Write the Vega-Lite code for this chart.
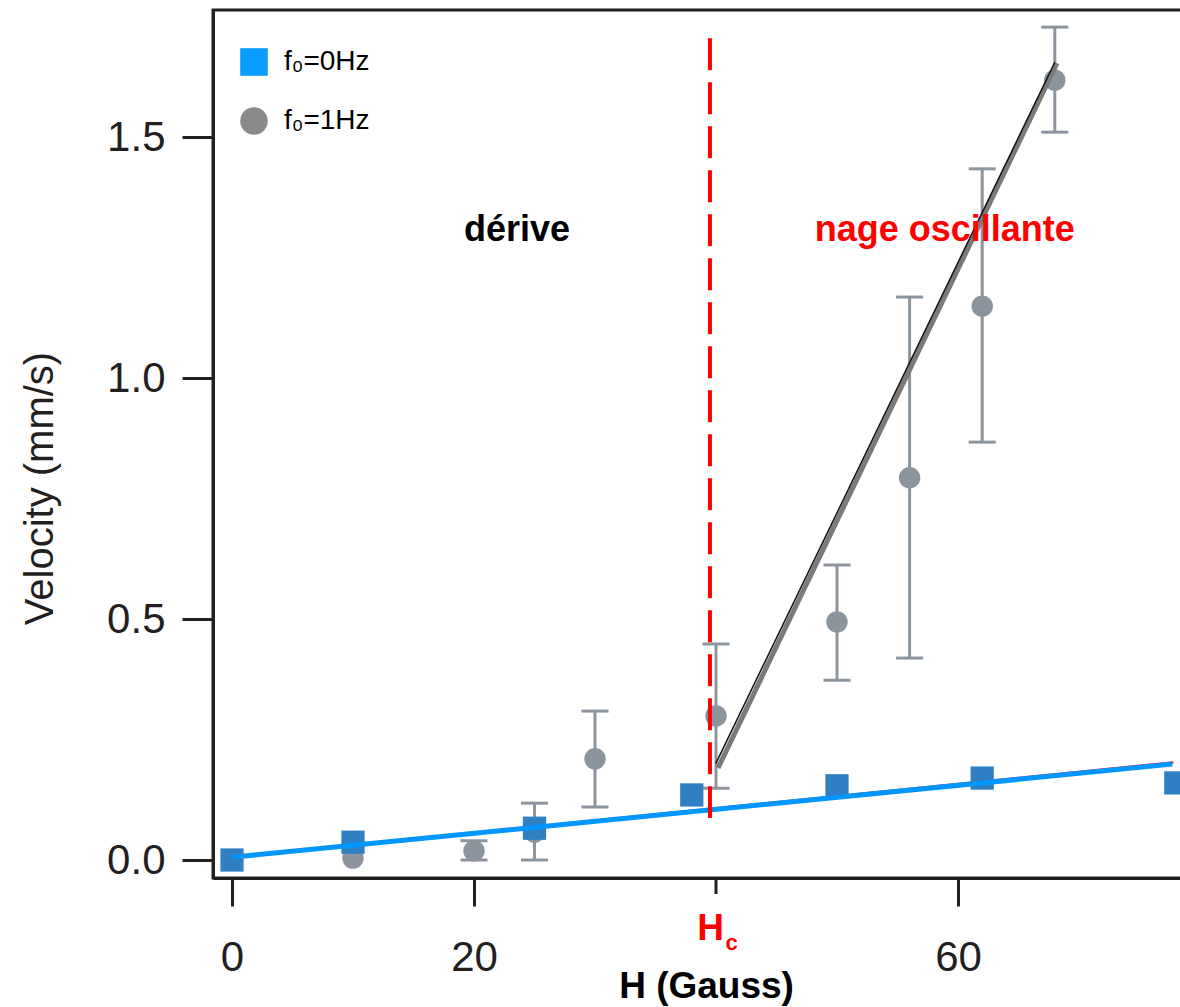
{
  "$schema": "https://vega.github.io/schema/vega-lite/v6.json",
  "width": 970,
  "height": 868,
  "autosize": {"type": "none"},
  "padding": {"left": 213, "top": 10, "right": 0, "bottom": 129},
  "background": "white",
  "config": {
    "view": {"stroke": "#231f20", "strokeWidth": 3},
    "font": "Liberation Sans"
  },
  "datasets": {
    "points": [
      {"series": "f₀=0Hz", "H": 0, "v": 0.0},
      {"series": "f₀=0Hz", "H": 10, "v": 0.037},
      {"series": "f₀=0Hz", "H": 25, "v": 0.066},
      {"series": "f₀=0Hz", "H": 38, "v": 0.135},
      {"series": "f₀=0Hz", "H": 50, "v": 0.154},
      {"series": "f₀=0Hz", "H": 62, "v": 0.17},
      {"series": "f₀=0Hz", "H": 78, "v": 0.16},
      {"series": "f₀=1Hz", "H": 10, "v": 0.004},
      {"series": "f₀=1Hz", "H": 20, "v": 0.019},
      {"series": "f₀=1Hz", "H": 25, "v": 0.058},
      {"series": "f₀=1Hz", "H": 30, "v": 0.21},
      {"series": "f₀=1Hz", "H": 40, "v": 0.299},
      {"series": "f₀=1Hz", "H": 50, "v": 0.494},
      {"series": "f₀=1Hz", "H": 56, "v": 0.793},
      {"series": "f₀=1Hz", "H": 62, "v": 1.149},
      {"series": "f₀=1Hz", "H": 68, "v": 1.618}
    ],
    "squares": [
      {"H": 0, "v": 0.0},
      {"H": 10, "v": 0.037},
      {"H": 25, "v": 0.066},
      {"H": 38, "v": 0.135},
      {"H": 50, "v": 0.154},
      {"H": 62, "v": 0.17},
      {"H": 78, "v": 0.16}
    ],
    "circles": [
      {"H": 10, "v": 0.004},
      {"H": 20, "v": 0.019, "lo": 0.0, "hi": 0.04},
      {"H": 25, "v": 0.058, "lo": 0.0, "hi": 0.118},
      {"H": 30, "v": 0.21, "lo": 0.11, "hi": 0.309},
      {"H": 40, "v": 0.299, "lo": 0.149, "hi": 0.448},
      {"H": 50, "v": 0.494, "lo": 0.373, "hi": 0.612},
      {"H": 56, "v": 0.793, "lo": 0.419, "hi": 1.168},
      {"H": 62, "v": 1.149, "lo": 0.867, "hi": 1.434},
      {"H": 68, "v": 1.618, "lo": 1.51, "hi": 1.728}
    ],
    "redFit": [{"H": 0.2, "v": 0.007}, {"H": 77.8, "v": 0.2025}],
    "blueFit": [{"H": 0.1, "v": 0.006}, {"H": 77.7, "v": 0.199}],
    "grayFit": [{"H": 40.17, "v": 0.191}, {"H": 68.18, "v": 1.653}],
    "blackFit": [{"H": 39.98, "v": 0.2}, {"H": 68.0, "v": 1.655}],
    "hc": [{"H": 39.5, "top": 1.705, "bottom": 0.087}],
    "hcTick": [{"H": 40, "a": -0.0373, "b": -0.0705}],
    "derive": [{"H": 23.55, "v": 1.284, "label": "dérive"}],
    "nage": [{"H": 58.9, "v": 1.284, "label": "nage oscillante"}],
    "hcH": [{"H": 39.55, "v": -0.166, "label": "H"}],
    "hcC": [{"H": 41.3, "v": -0.187, "label": "c"}]
  },
  "encoding": {
    "x": {
      "field": "H", "type": "quantitative",
      "scale": {"domain": [-1.5702, 78.595], "nice": false, "zero": false},
      "axis": {
        "values": [0, 20, 60],
        "grid": false,
        "tickSize": 28, "tickWidth": 3, "tickColor": "#231f20",
        "domainColor": "#231f20", "domainWidth": 3,
        "labelFont": "Liberation Sans", "labelFontSize": 42, "labelColor": "#231f20",
        "labelBaseline": "alphabetic", "labelPadding": 64,
        "labelFlush": false, "labelOverlap": false,
        "title": "H (Gauss)",
        "titleFont": "Liberation Sans", "titleFontSize": 37, "titleFontWeight": "bold", "titleColor": "black",
        "titleX": 493, "titleY": 119, "titleBaseline": "alphabetic", "titleAlign": "center", "titleAnchor": null
      }
    },
    "y": {
      "field": "v", "type": "quantitative",
      "scale": {"domain": [-0.0373, 1.7635], "nice": false, "zero": false},
      "axis": {
        "values": [0, 0.5, 1, 1.5], "format": ".1f",
        "grid": false,
        "tickSize": 31, "tickWidth": 3, "tickColor": "#231f20",
        "domainColor": "#231f20", "domainWidth": 3,
        "labelFont": "Liberation Sans", "labelFontSize": 42, "labelColor": "#231f20",
        "labelBaseline": "middle", "labelPadding": 17,
        "labelFlush": false, "labelOverlap": false,
        "title": "Velocity (mm/s)",
        "titleFont": "Liberation Sans", "titleFontSize": 40, "titleFontWeight": "normal", "titleColor": "#231f20",
        "titleAngle": -90, "titleX": -161, "titleY": 478, "titleBaseline": "alphabetic", "titleAlign": "center"
      }
    }
  },
  "layer": [
    {
      "data": {"name": "points"},
      "mark": {"type": "point", "filled": true, "opacity": 1, "size": 250},
      "encoding": {
        "color": {
          "field": "series", "type": "nominal",
          "scale": {"domain": ["f₀=0Hz", "f₀=1Hz"], "range": ["#0a9bff", "#8a8a8a"]},
          "legend": {
            "title": null, "orient": "none", "legendX": 27, "legendY": 38,
            "symbolSize": 760, "symbolOpacity": 1, "symbolStrokeWidth": 0,
            "labelFont": "Liberation Sans", "labelFontSize": 28, "labelColor": "black",
            "labelOffset": 16, "rowPadding": 31
          }
        },
        "shape": {
          "field": "series", "type": "nominal",
          "scale": {"domain": ["f₀=0Hz", "f₀=1Hz"], "range": ["square", "circle"]},
          "legend": {
            "title": null, "orient": "none", "legendX": 27, "legendY": 38,
            "symbolSize": 760, "symbolOpacity": 1, "symbolStrokeWidth": 0,
            "labelFont": "Liberation Sans", "labelFontSize": 28, "labelColor": "black",
            "labelOffset": 16, "rowPadding": 31
          }
        }
      }
    },
    {
      "data": {"name": "circles"},
      "mark": {"type": "rule", "color": "#8c959d", "strokeWidth": 3},
      "encoding": {"y": {"field": "lo", "type": "quantitative"}, "y2": {"field": "hi"}}
    },
    {
      "data": {"name": "circles"},
      "mark": {"type": "tick", "orient": "horizontal", "color": "#8c959d", "size": 27, "thickness": 3, "opacity": 1},
      "encoding": {"y": {"field": "lo", "type": "quantitative"}}
    },
    {
      "data": {"name": "circles"},
      "mark": {"type": "tick", "orient": "horizontal", "color": "#8c959d", "size": 27, "thickness": 3, "opacity": 1},
      "encoding": {"y": {"field": "hi", "type": "quantitative"}}
    },
    {
      "data": {"name": "circles"},
      "mark": {"type": "point", "shape": "circle", "filled": true, "opacity": 1, "color": "#8c959d", "size": 460}
    },
    {
      "data": {"name": "squares"},
      "mark": {"type": "point", "shape": "square", "filled": true, "opacity": 1, "color": "#2f7fc2", "size": 540}
    },
    {
      "data": {"name": "redFit"},
      "mark": {"type": "line", "color": "#ff2020", "strokeWidth": 2.5},
      "encoding": {}
    },
    {
      "data": {"name": "blueFit"},
      "mark": {"type": "line", "color": "#0096ff", "strokeWidth": 5},
      "encoding": {}
    },
    {
      "data": {"name": "grayFit"},
      "mark": {"type": "line", "color": "#7a7a7a", "strokeWidth": 5},
      "encoding": {}
    },
    {
      "data": {"name": "blackFit"},
      "mark": {"type": "line", "color": "#111111", "strokeWidth": 1.5},
      "encoding": {}
    },
    {
      "data": {"name": "hc"},
      "mark": {"type": "rule", "color": "#ff0000", "strokeWidth": 4, "strokeDash": [32, 12]},
      "encoding": {"y": {"field": "top", "type": "quantitative"}, "y2": {"field": "bottom"}}
    },
    {
      "data": {"name": "hcTick"},
      "mark": {"type": "rule", "color": "#231f20", "strokeWidth": 3, "clip": false},
      "encoding": {"y": {"field": "a", "type": "quantitative"}, "y2": {"field": "b"}}
    },
    {
      "data": {"name": "derive"},
      "mark": {"type": "text", "font": "Liberation Sans", "fontSize": 36, "fontWeight": "bold", "color": "black", "align": "center", "baseline": "alphabetic"},
      "encoding": {"text": {"field": "label"}}
    },
    {
      "data": {"name": "nage"},
      "mark": {"type": "text", "font": "Liberation Sans", "fontSize": 36, "fontWeight": "bold", "color": "#ff0000", "align": "center", "baseline": "alphabetic"},
      "encoding": {"text": {"field": "label"}}
    },
    {
      "data": {"name": "hcH"},
      "mark": {"type": "text", "font": "Liberation Sans", "fontSize": 37, "fontWeight": "bold", "color": "#ff0000", "align": "center", "baseline": "alphabetic", "clip": false},
      "encoding": {"text": {"field": "label"}}
    },
    {
      "data": {"name": "hcC"},
      "mark": {"type": "text", "font": "Liberation Sans", "fontSize": 22, "fontWeight": "bold", "color": "#ff0000", "align": "center", "baseline": "alphabetic", "clip": false},
      "encoding": {"text": {"field": "label"}}
    }
  ]
}
